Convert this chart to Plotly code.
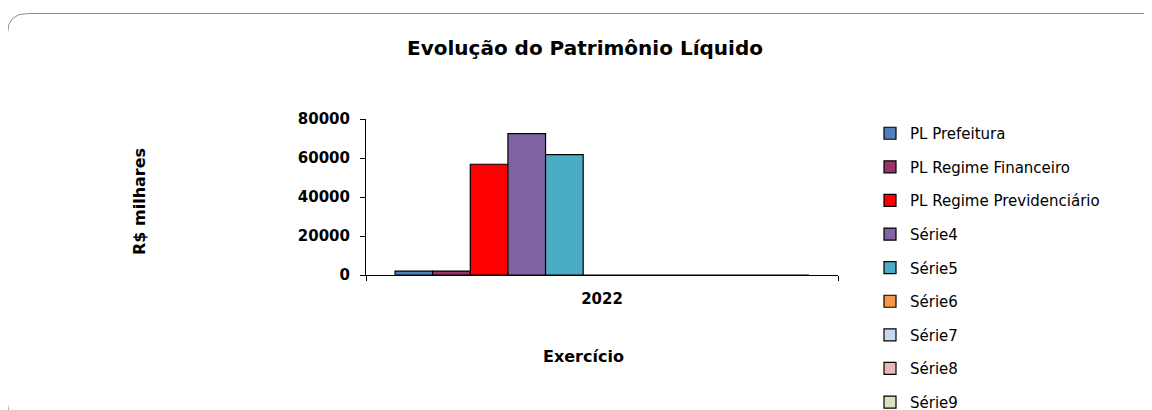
import plotly.graph_objects as go

W, H = 1152, 410
OFF = 8  # page body margin offset

categories = ["2022"]
series_names = ["PL Prefeitura", "PL Regime Financeiro", "PL Regime Previdenciário",
                "Série4", "Série5", "Série6", "Série7", "Série8", "Série9",
                "Série10", "Série11"]
series_values = [[2000], [2000], [56800], [72500], [61700],
                 [0], [0], [0], [0], [0], [0]]
series_colors = ["#4F81BD", "#993366", "#FF0000", "#8064A2", "#4BACC6",
                 "#F79646", "#C6D9F1", "#E6B9B8", "#D7E4BD", "#FFFFFF", "#FFFFFF"]
in_legend = [True] * 9 + [False, False]
y_ticks = [0, 20000, 40000, 60000, 80000]

def px(x):
    return (x - OFF) / W

def py(y):
    return 1 - (y - OFF) / H

fig = go.Figure()
for name, vals, col, leg in zip(series_names, series_values, series_colors, in_legend):
    fig.add_trace(go.Bar(
        x=categories, y=vals, name=name, showlegend=leg, legendgroup=name,
        marker=dict(color=col, line=dict(color="black", width=1.2)),
    ))

font_family = "DejaVu Sans, Verdana, sans-serif"

fig.update_layout(
    width=W, height=H,
    margin=dict(l=0, r=0, t=0, b=0, autoexpand=False),
    paper_bgcolor="white", plot_bgcolor="white",
    barmode="group", bargap=0.123, bargroupgap=0,
    font=dict(family=font_family, color="black", size=15),
    xaxis=dict(domain=[px(366), px(838)], showline=True, linecolor="black", linewidth=1,
               ticks="outside", ticklen=5, tickcolor="black", tickson="boundaries",
               tickfont=dict(size=15, family=font_family, weight="bold"),
               ticklabelstandoff=10,
               showgrid=False, zeroline=False, fixedrange=True, automargin=False),
    yaxis=dict(domain=[py(275), py(119)], range=[0, 80000], tickvals=y_ticks,
               tickformat="d",
               showline=True, linecolor="black", linewidth=1,
               ticks="outside", ticklen=5, tickcolor="black",
               tickfont=dict(size=15, family=font_family, weight="bold"),
               ticklabelstandoff=7,
               showgrid=False, zeroline=False, fixedrange=True, automargin=False),
    legend=dict(x=px(870), y=py(117), xanchor="left", yanchor="top",
                font=dict(size=15, family=font_family), tracegroupgap=11.1,
                bgcolor="rgba(0,0,0,0)"),
    annotations=[
        dict(text="<b>Evolução do Patrimônio Líquido</b>", x=px(585), y=py(48),
             xref="paper", yref="paper", showarrow=False,
             font=dict(size=20, family=font_family), xanchor="center", yanchor="middle"),
        dict(text="<b>R$ milhares</b>", x=px(139), y=py(202), textangle=-90,
             xref="paper", yref="paper", showarrow=False,
             font=dict(size=16, family=font_family), xanchor="center", yanchor="middle"),
        dict(text="<b>Exercício</b>", x=px(583), y=py(356),
             xref="paper", yref="paper", showarrow=False,
             font=dict(size=16, family=font_family), xanchor="center", yanchor="middle"),
    ],
)

# rounded chart-area border
x0, y0, x1, y1, r = 7.5, 13.5, 1166, 424, 20
path = (f"M {px(x0+r)},{py(y0)} L {px(x1-r)},{py(y0)} "
        f"Q {px(x1)},{py(y0)} {px(x1)},{py(y0+r)} "
        f"L {px(x1)},{py(y1-r)} Q {px(x1)},{py(y1)} {px(x1-r)},{py(y1)} "
        f"L {px(x0+r)},{py(y1)} Q {px(x0)},{py(y1)} {px(x0)},{py(y1-r)} "
        f"L {px(x0)},{py(y0+r)} Q {px(x0)},{py(y0)} {px(x0+r)},{py(y0)} Z")
fig.add_shape(type="path", path=path, xref="paper", yref="paper",
              line=dict(color="#8C8C8C", width=1), layer="below")

fig.write_html("out.html")
